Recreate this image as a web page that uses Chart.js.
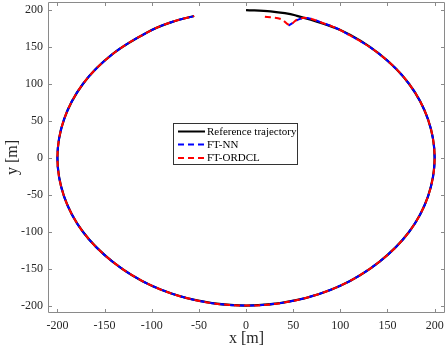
<!DOCTYPE html>
<html>
<head>
<meta charset="utf-8">
<script src="https://cdn.jsdelivr.net/npm/chart.js@4.4.1/dist/chart.umd.min.js"></script>
<style>
html,body{margin:0;padding:0;background:#fff;}
#wrap{width:447px;height:354px;position:relative;}
</style>
</head>
<body>
<div id="wrap"><canvas id="c" width="447" height="354"></canvas></div>
<script>
// Tick values
const xTicks = [-200, -150, -100, -50, 0, 50, 100, 150, 200];
const yTicks = [-200, -150, -100, -50, 0, 50, 100, 150, 200];

// Reference trajectory (clockwise from top)
const refX = [0, 26, 52, 100, 141, 173, 193, 200, 193, 173, 141, 100, 52, 0, -52, -100, -141, -173, -193, -200, -193, -173, -141, -100, -77, -55];
const refY = [200, 198.3, 193, 173, 141, 100, 52, 0, -52, -100, -141, -173, -193, -200, -193, -173, -141, -100, -52, 0, 52, 100, 141, 173, 184.6, 192];

// FT-NN
const nnX = [45, 50, 56, 65, 83, 100, 141, 173, 193, 200, 193, 173, 141, 100, 52, 0, -52, -100, -141, -173, -193, -200, -193, -173, -141, -100, -77, -55];
const nnY = [179, 183, 187.5, 189.2, 181.8, 173, 141, 100, 52, 0, -52, -100, -141, -173, -193, -200, -193, -173, -141, -100, -52, 0, 52, 100, 141, 173, 184.6, 192];

// FT-ORDCL
const ordX = [20, 37, 46, 54, 64, 83, 100, 141, 173, 193, 200, 193, 173, 141, 100, 52, 0, -52, -100, -141, -173, -193, -200, -193, -173, -141, -100, -77, -55];
const ordY = [191, 188, 180, 187, 189.5, 181.8, 173, 141, 100, 52, 0, -52, -100, -141, -173, -193, -200, -193, -173, -141, -100, -52, 0, 52, 100, 141, 173, 184.6, 192];

const legendLabels = ['Reference trajectory', 'FT-NN', 'FT-ORDCL'];

function pts(xs, ys) { return xs.map((x, i) => ({x: x, y: ys[i]})); }

const SERIF = '"Liberation Serif", "DejaVu Serif", serif';
const AXC = '#8a8a8a';

function noPad(s) { s.paddingTop = 0; s.paddingBottom = 0; s.paddingLeft = 0; s.paddingRight = 0; }

const boxPlugin = {
  id: 'boxPlugin',
  afterDraw(chart) {
    const ctx = chart.ctx;
    const a = chart.chartArea;
    const xs = chart.scales.x, ys = chart.scales.y;
    ctx.save();
    ctx.strokeStyle = AXC;
    ctx.lineWidth = 1;
    ctx.beginPath();
    ctx.rect(Math.round(a.left) + 0.5, Math.round(a.top) + 0.5, Math.round(a.right - a.left) - 1, Math.round(a.bottom - a.top) - 1);
    ctx.stroke();
    const tl = 4;
    ctx.beginPath();
    xTicks.forEach(v => {
      const px = Math.round(xs.getPixelForValue(v)) + 0.5;
      ctx.moveTo(px, a.bottom); ctx.lineTo(px, a.bottom - tl);
      ctx.moveTo(px, a.top); ctx.lineTo(px, a.top + tl);
    });
    yTicks.forEach(v => {
      const py = Math.round(ys.getPixelForValue(v)) + 0.5;
      ctx.moveTo(a.left, py); ctx.lineTo(a.left + tl, py);
      ctx.moveTo(a.right, py); ctx.lineTo(a.right - tl, py);
    });
    ctx.stroke();

    // axis titles
    ctx.fillStyle = '#262626';
    ctx.font = '16px ' + SERIF;
    ctx.textAlign = 'center';
    ctx.textBaseline = 'middle';
    ctx.fillText('x [m]', (a.left + a.right) / 2, 339);
    ctx.save();
    ctx.translate(13, (a.top + a.bottom) / 2);
    ctx.rotate(-Math.PI / 2);
    ctx.fillText('y [m]', 0, 0);
    ctx.restore();

    // legend
    const lx = 173.5, ly = 123.5, lw = 124, lh = 41;
    ctx.fillStyle = '#fff';
    ctx.fillRect(lx, ly, lw, lh);
    ctx.strokeStyle = '#333';
    ctx.lineWidth = 1;
    ctx.strokeRect(lx, ly, lw, lh);
    const rows = [131.5, 144.5, 158];
    const colors = ['#000000', '#0000ff', '#ff0000'];
    const dashes = [[], [6, 4], [6, 4]];
    ctx.font = '11px ' + SERIF;
    ctx.textAlign = 'left';
    rows.forEach((ry, i) => {
      ctx.beginPath();
      ctx.setLineDash(dashes[i]);
      ctx.strokeStyle = colors[i];
      ctx.lineWidth = 2;
      ctx.moveTo(178, ry); ctx.lineTo(205, ry);
      ctx.stroke();
      ctx.setLineDash([]);
      ctx.fillStyle = '#000';
      ctx.fillText(legendLabels[i], 207, ry + 0.5);
    });
    ctx.restore();
  }
};

new Chart(document.getElementById('c'), {
  type: 'scatter',
  data: {
    datasets: [
      { label: legendLabels[2], data: pts(ordX, ordY), showLine: true, borderColor: '#ff0000', borderWidth: 2, borderDash: [6, 4], pointRadius: 0, tension: 0.34, order: 1, fill: false },
      { label: legendLabels[1], data: pts(nnX, nnY), showLine: true, borderColor: '#0000ff', borderWidth: 2, borderDash: [6, 4], borderDashOffset: 0.8, pointRadius: 0, tension: 0.34, order: 2, fill: false },
      { label: legendLabels[0], data: pts(refX, refY), showLine: true, borderColor: '#000000', borderWidth: 2.2, pointRadius: 0, tension: 0.34, order: 3, fill: false }
    ]
  },
  options: {
    responsive: false,
    animation: false,
    events: [],
    layout: { padding: { left: 0, right: 2, top: 2, bottom: 0 } },
    plugins: { legend: { display: false }, tooltip: { enabled: false } },
    scales: {
      x: {
        type: 'linear', min: -210, max: 211,
        afterBuildTicks: s => { s.ticks = xTicks.map(v => ({ value: v })); },
        afterFit: s => { s.height = 41; noPad(s); },
        grid: { display: false, drawTicks: false },
        border: { display: false },
        ticks: { color: '#262626', font: { family: SERIF, size: 12 }, padding: 6, maxRotation: 0, autoSkip: false }
      },
      y: {
        type: 'linear', min: -210, max: 211,
        afterBuildTicks: s => { s.ticks = yTicks.map(v => ({ value: v })); },
        afterFit: s => { s.width = 48; noPad(s); },
        grid: { display: false, drawTicks: false },
        border: { display: false },
        ticks: { color: '#262626', font: { family: SERIF, size: 12 }, padding: 5, autoSkip: false }
      }
    }
  },
  plugins: [boxPlugin]
});
</script>
</body>
</html>
